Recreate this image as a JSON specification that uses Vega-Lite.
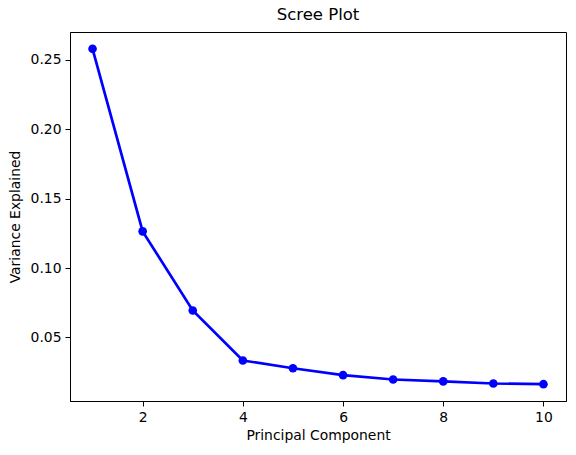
{
  "$schema": "https://vega.github.io/schema/vega-lite/v6.json",
  "autosize": "none",
  "width": 496,
  "height": 369,
  "padding": {"left": 70, "top": 32, "right": 10, "bottom": 54},
  "background": "white",
  "title": {"text": "Scree Plot", "fontSize": 16.5, "font": "DejaVu Sans", "fontWeight": "normal", "color": "black", "offset": 9},
  "data": {"values": [
    {"pc": 1, "var": 0.2579},
    {"pc": 2, "var": 0.1264},
    {"pc": 3, "var": 0.0694},
    {"pc": 4, "var": 0.0334},
    {"pc": 5, "var": 0.0278},
    {"pc": 6, "var": 0.0228},
    {"pc": 7, "var": 0.0197},
    {"pc": 8, "var": 0.0183},
    {"pc": 9, "var": 0.0168},
    {"pc": 10, "var": 0.0163}
  ]},
  "config": {
    "view": {"stroke": "black", "strokeWidth": 1},
    "axis": {
      "grid": false, "domainColor": "black", "tickColor": "black", "tickSize": 5,
      "labelFont": "DejaVu Sans", "labelFontSize": 13.9, "labelColor": "black", "labelPadding": 4,
      "titleFont": "DejaVu Sans", "titleFontSize": 13.9, "titleFontWeight": "normal", "titleColor": "black"
    }
  },
  "encoding": {
    "x": {"field": "pc", "type": "quantitative", "scale": {"domain": [0.55, 10.45], "nice": false, "zero": false},
      "axis": {"values": [2, 4, 6, 8, 10], "title": "Principal Component", "titlePadding": 5}},
    "y": {"field": "var", "type": "quantitative", "scale": {"domain": [0.0042, 0.27], "nice": false, "zero": false},
      "axis": {"values": [0.05, 0.10, 0.15, 0.20, 0.25], "format": ".2f", "title": "Variance Explained", "titlePadding": 8}}
  },
  "layer": [
    {"mark": {"type": "line", "color": "#0000ff", "strokeWidth": 2.7}},
    {"mark": {"type": "point", "filled": true, "color": "#0000ff", "opacity": 1, "size": 75}}
  ]
}
